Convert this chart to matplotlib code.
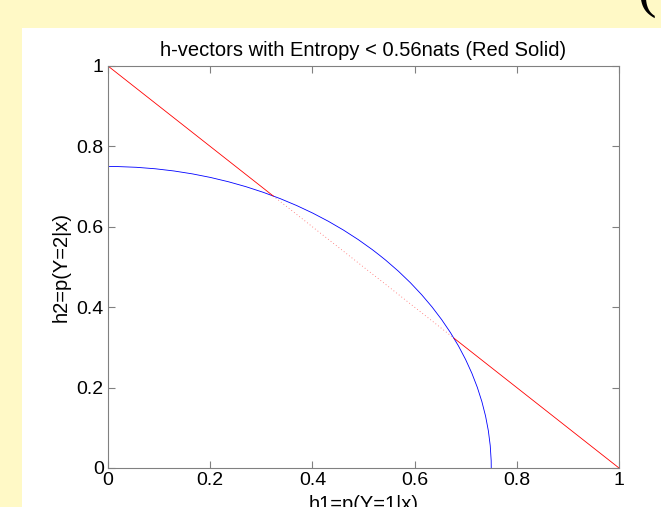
import matplotlib
matplotlib.use('Agg')
import matplotlib.pyplot as plt
from matplotlib.patches import Arc

plt.rcParams['font.family'] = ['Liberation Sans', 'DejaVu Sans']

# blue curve: quarter circle of radius 0.75
radius = 0.75
# red line y = 1 - x, split at where it crosses the circle
red_solid_1_x = [0.0, 0.323]
red_solid_1_y = [1.0, 0.677]
red_dot_x = [0.323, 0.677]
red_dot_y = [0.677, 0.323]
red_solid_2_x = [0.677, 1.0]
red_solid_2_y = [0.323, 0.0]

ticks = [0, 0.2, 0.4, 0.6, 0.8, 1]
tick_labels = ['0', '0.2', '0.4', '0.6', '0.8', '1']

yellow = '#FFF9C6'

fig = plt.figure(figsize=(6.61, 5.07), dpi=100)
fig.patch.set_facecolor(yellow)
# white figure panel behind the axes
fig.patches.append(plt.Rectangle((22/661, 0), 1, 1 - 28/507, transform=fig.transFigure,
                                 facecolor='white', edgecolor='none', zorder=-10))
# bit of a big bracket cut off at the top right
fig.text(637/661, 1 - 6/507, '(', fontsize=40, color='black', ha='left', va='baseline',
         family='Liberation Serif')

ax = fig.add_axes([108/661, 1 - 468/507, 511/661, 402/507])
ax.set_zorder(1)
ax.plot(red_solid_1_x, red_solid_1_y, color='#FF0000', lw=0.6)
ax.plot(red_dot_x, red_dot_y, color='#FF0000', lw=0.6, ls=(0, (1, 3)), alpha=0.6)
ax.plot(red_solid_2_x, red_solid_2_y, color='#FF0000', lw=0.6)
ax.add_patch(Arc((0, 0), 2 * radius, 2 * radius, theta1=0, theta2=90, color='#0000FF', lw=0.6))

ax.set_xlim(0, 1)
ax.set_ylim(0, 1)
ax.set_xticks(ticks)
ax.set_xticklabels(tick_labels)
ax.set_yticks(ticks)
ax.set_yticklabels(tick_labels)
ax.tick_params(direction='in', top=True, right=True, length=5, width=0.8, color='#808080',
               labelsize=14, pad=3)
for s in ax.spines.values():
    s.set_color('#808080')
    s.set_linewidth(0.8)

ax.set_title('h-vectors with Entropy < 0.56nats (Red Solid)', fontsize=14.5, pad=7)
ax.set_xlabel('h1=p(Y=1|x)', fontsize=14.5, labelpad=4)
ax.set_ylabel('h2=p(Y=2|x)', fontsize=14.5, labelpad=4)

fig.savefig('out.png', dpi=100, facecolor=yellow)
